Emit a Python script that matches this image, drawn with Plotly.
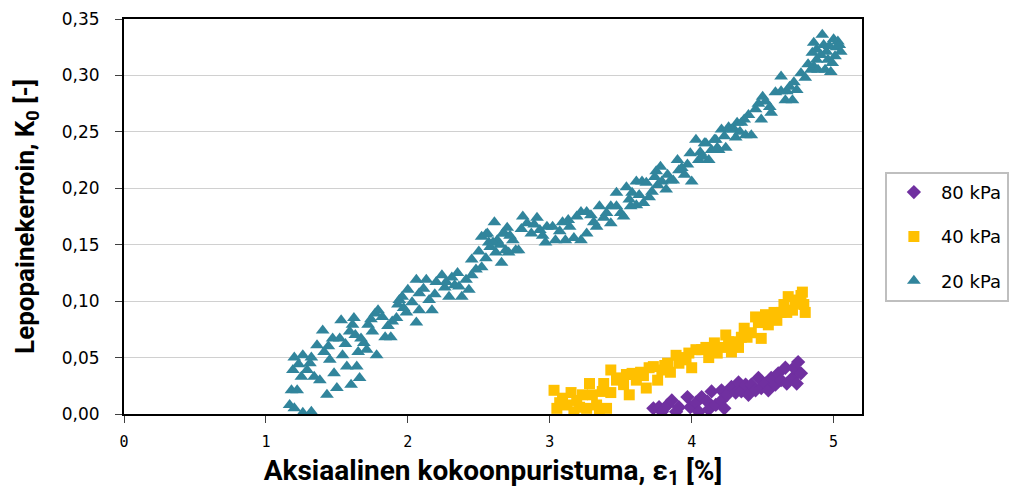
import plotly.graph_objects as go

# ---- 20 kPa (triangles) ----
x20 = [1.167, 1.20, 1.26, 1.32, 1.18, 1.22, 1.19, 1.20, 1.26, 1.25, 1.29, 1.32, 1.36, 1.34, 1.38,
       1.40, 1.41, 1.43, 1.45, 1.48, 1.50, 1.47, 1.53, 1.52, 1.54, 1.57, 1.60, 1.59, 1.62, 1.61,
       1.65, 1.64, 1.66, 1.69, 1.67, 1.72, 1.71, 1.78, 1.77, 1.79, 1.75, 1.82, 1.84, 1.88, 1.89,
       1.93, 1.92,
       1.94, 1.96, 2.00, 2.06, 1.99, 2.06, 2.08, 2.08, 2.13, 2.15, 2.17, 2.20, 2.24, 2.26, 2.29,
       2.31, 2.35, 2.36, 2.38, 2.41, 2.45, 2.48, 2.52, 2.50, 2.45, 2.55, 2.52, 2.56, 2.61, 2.57,
       2.63, 2.62, 2.66, 2.69, 2.70, 2.74, 2.76, 2.68,
       2.55, 2.60, 2.67, 2.71, 2.78, 2.81, 2.84, 2.87, 2.91, 2.93, 2.97, 2.98, 3.02, 3.04, 3.09,
       3.11, 3.14, 3.17, 3.19, 3.22, 3.26, 3.22, 3.26, 3.29, 3.33, 3.35, 3.38, 3.43, 3.43, 3.47,
       3.47, 3.50, 3.52, 3.54, 3.57, 3.58, 3.61, 3.61, 3.65, 3.66, 3.68, 3.70, 3.72, 3.75, 3.76,
       3.78, 3.79, 3.82, 3.83, 3.85, 3.87, 3.90, 3.91, 3.95, 3.97, 3.99, 4.00, 4.03, 4.05, 4.06,
       4.10, 4.12, 4.14, 4.17, 4.19, 4.21, 4.24, 4.26, 4.30, 4.32,
       4.09, 4.16, 4.18, 4.28, 4.31, 4.35, 4.37, 4.38, 4.42, 4.40, 4.45, 4.49, 4.50, 4.52, 4.56,
       4.59, 4.63, 4.63, 4.66, 4.67, 4.71, 4.72, 4.74, 4.77, 4.80, 4.84, 4.86, 4.88, 4.89, 4.86,
       4.88, 4.92, 4.93, 4.95, 4.96, 4.98, 4.94, 5.00, 5.02, 5.03, 5.05, 5.01, 4.85, 4.99,
       1.23, 1.31, 1.44, 1.56, 1.63, 1.74, 1.86, 1.97, 2.03, 2.11, 2.19, 2.27, 2.33, 2.43, 2.58,
       2.65, 2.72, 2.80, 2.89, 2.95, 3.07, 3.13, 3.31, 3.40, 3.56, 3.63, 3.74, 3.93, 4.08, 4.23,
       4.34, 4.47, 4.55, 4.69, 4.82, 4.91, 4.97, 5.04]
y20 = [0.008, 0.005, 0.001, 0.002, 0.021, 0.021, 0.039, 0.050, 0.052, 0.033, 0.039, 0.050, 0.061, 0.033, 0.030,
       0.074, 0.055, 0.017, 0.048, 0.036, 0.023, 0.067, 0.083, 0.067, 0.052, 0.042, 0.026, 0.073, 0.085, 0.079,
       0.055, 0.042, 0.032, 0.063, 0.067, 0.079, 0.057, 0.052, 0.089, 0.092, 0.073, 0.086, 0.068, 0.068, 0.082,
       0.097, 0.085,
       0.101, 0.104, 0.110, 0.119, 0.090, 0.081, 0.092, 0.107, 0.119, 0.101, 0.092, 0.117, 0.123, 0.112, 0.104,
       0.121, 0.125, 0.113, 0.104, 0.119, 0.123, 0.128, 0.130, 0.144, 0.137, 0.138, 0.157, 0.160, 0.170, 0.152,
       0.154, 0.143, 0.134, 0.145, 0.165, 0.154, 0.145, 0.160,
       0.159, 0.152, 0.160, 0.143, 0.145, 0.175, 0.169, 0.160, 0.174, 0.163, 0.152, 0.166, 0.166, 0.154, 0.170,
       0.154, 0.166, 0.156, 0.175, 0.154, 0.160, 0.179, 0.179, 0.176, 0.166, 0.184, 0.174, 0.169, 0.184, 0.184,
       0.196, 0.178, 0.175, 0.201, 0.184, 0.196, 0.206, 0.185, 0.206, 0.187, 0.205, 0.192, 0.197, 0.215, 0.203,
       0.219, 0.206, 0.199, 0.212, 0.207, 0.207, 0.225, 0.216, 0.212, 0.221, 0.231, 0.206, 0.243, 0.225, 0.232,
       0.240, 0.225, 0.234, 0.243, 0.234, 0.252, 0.236, 0.254, 0.252, 0.258,
       0.240, 0.243, 0.236, 0.252, 0.245, 0.258, 0.261, 0.247, 0.247, 0.265, 0.270, 0.261, 0.281, 0.277, 0.267,
       0.285, 0.286, 0.299, 0.278, 0.286, 0.278, 0.294, 0.287, 0.302, 0.298, 0.305, 0.308, 0.314, 0.305, 0.329,
       0.323, 0.336, 0.327, 0.321, 0.314, 0.303, 0.305, 0.332, 0.325, 0.330, 0.321, 0.317, 0.320, 0.311,
       0.044, 0.045, 0.060, 0.062, 0.070, 0.084, 0.078, 0.094, 0.099, 0.111, 0.106, 0.117, 0.114, 0.110, 0.148,
       0.150, 0.158, 0.164, 0.168, 0.158, 0.162, 0.172, 0.170, 0.178, 0.190, 0.194, 0.210, 0.218, 0.228, 0.246,
       0.250, 0.275, 0.272, 0.290, 0.310, 0.318, 0.326, 0.327]

# ---- 40 kPa (squares) ----
x40 = [3.03, 3.05, 3.09, 3.12, 3.15, 3.17, 3.19, 3.23, 3.26, 3.28, 3.30, 3.33, 3.35, 3.38, 3.40,
       3.43, 3.43, 3.47, 3.50, 3.54, 3.56, 3.58, 3.61, 3.64, 3.68, 3.70, 3.73, 3.76, 3.79, 3.83,
       3.85, 3.89, 3.91, 3.95, 3.98, 4.00, 4.03, 4.07, 4.10, 4.12, 4.16, 4.18, 4.21, 4.24, 4.26,
       4.28, 4.31, 4.33, 4.37, 4.39, 4.42, 4.45, 4.47, 4.49, 4.52, 4.54, 4.58, 4.60, 4.63, 4.65,
       4.67, 4.68, 4.71, 4.73, 4.77, 4.79, 4.80, 4.78,
       3.07, 3.21, 3.37, 3.52, 3.66, 3.81, 3.96, 4.14, 4.35, 4.56, 4.75]
y40 = [0.021, 0.005, 0.014, 0.008, 0.019, 0.002, 0.012, 0.017, 0.005, 0.027, 0.017, 0.008, 0.002, 0.027, 0.005,
       0.039, 0.019, 0.030, 0.032, 0.035, 0.017, 0.036, 0.030, 0.037, 0.023, 0.041, 0.042, 0.030, 0.039, 0.045,
       0.037, 0.052, 0.045, 0.048, 0.054, 0.041, 0.057, 0.057, 0.059, 0.050, 0.063, 0.054, 0.059, 0.070, 0.064,
       0.055, 0.064, 0.059, 0.076, 0.068, 0.072, 0.086, 0.081, 0.067, 0.088, 0.079, 0.090, 0.083, 0.090, 0.097,
       0.090, 0.104, 0.092, 0.101, 0.105, 0.097, 0.090, 0.108,
       0.010, 0.006, 0.020, 0.026, 0.034, 0.043, 0.050, 0.058, 0.068, 0.084, 0.098]

# ---- 80 kPa (diamonds) ----
x80 = [3.73, 3.77, 3.79, 3.83, 3.86, 3.89, 3.91, 3.97, 3.99, 4.03, 4.05, 4.07, 4.11, 4.12, 4.14,
       4.17, 4.21, 4.21, 4.23, 4.25, 4.28, 4.31, 4.33, 4.35, 4.38, 4.40, 4.42, 4.45, 4.47, 4.49,
       4.52, 4.54, 4.56, 4.59, 4.61, 4.63, 4.66, 4.67, 4.71, 4.72, 4.75, 4.77, 4.74]
y80 = [0.005, 0.006, 0.002, 0.008, 0.012, 0.002, 0.006, 0.015, 0.006, 0.010, 0.002, 0.015, 0.011, 0.004, 0.020,
       0.008, 0.012, 0.021, 0.005, 0.017, 0.024, 0.019, 0.028, 0.020, 0.026, 0.017, 0.026, 0.021, 0.032, 0.023,
       0.027, 0.021, 0.032, 0.026, 0.036, 0.030, 0.041, 0.027, 0.032, 0.041, 0.046, 0.036, 0.027]

y_ticks = [0, 0.05, 0.10, 0.15, 0.20, 0.25, 0.30, 0.35]
x_ticks = [0, 1, 2, 3, 4, 5]

fig = go.Figure()
fig.add_trace(go.Scatter(x=x80, y=y80, mode="markers", name="80 kPa", legendgroup="a",
                         marker=dict(symbol="diamond", size=11, color="#7030A0")))
fig.add_trace(go.Scatter(x=x40, y=y40, mode="markers", name="40 kPa", legendgroup="b",
                         marker=dict(symbol="square", size=11, color="#FFC000")))
fig.add_trace(go.Scatter(x=x20, y=y20, mode="markers", name="20 kPa", legendgroup="c",
                         marker=dict(symbol="triangle-up", size=12, color="#31859C")))

# the page body has an 8px margin, so the figure is offset by 8px
fig.update_layout(
    width=1012, height=485,
    margin=dict(l=116, r=156, t=11, b=79),
    paper_bgcolor="white", plot_bgcolor="white",
    separators=", ",
    font=dict(family="DejaVu Sans, sans-serif", color="black"),
    showlegend=True,
    legend=dict(x=1.031, y=0.613, xanchor="left", yanchor="top",
                bordercolor="#bfbfbf", borderwidth=2, bgcolor="white",
                font=dict(size=18, family="DejaVu Sans, sans-serif"),
                itemwidth=44,
                tracegroupgap=18, traceorder="grouped"),
    xaxis=dict(range=[0, 5.2], tickvals=x_ticks, showgrid=False, zeroline=False,
               automargin=False,
               showline=True, mirror=True, linecolor="black", linewidth=2,
               ticks="outside", ticklen=7, tickcolor="#404040", ticklabelstandoff=6,
               tickfont=dict(size=15, family="DejaVu Sans Mono, monospace"),
               title=dict(text="Aksiaalinen kokoonpuristuma, ε<sub>1</sub> [%]",
                          font=dict(size=28, family="Roboto, sans-serif", weight="bold"),
                          standoff=10)),
    yaxis=dict(range=[0, 0.35], tickvals=y_ticks, tickformat=".2f",
               automargin=False,
               showgrid=True, gridcolor="#d0d0d0", gridwidth=1, zeroline=False,
               showline=True, mirror=True, linecolor="black", linewidth=2,
               ticks="outside", ticklen=7, tickcolor="#404040", ticklabelstandoff=12,
               tickfont=dict(size=17, family="DejaVu Sans, sans-serif"),
               title=dict(text="Lepopainekerroin, K<sub>0</sub> [-]",
                          font=dict(size=26, family="Roboto, sans-serif", weight="bold"),
                          standoff=20)),
)

fig.write_html("out.html")
